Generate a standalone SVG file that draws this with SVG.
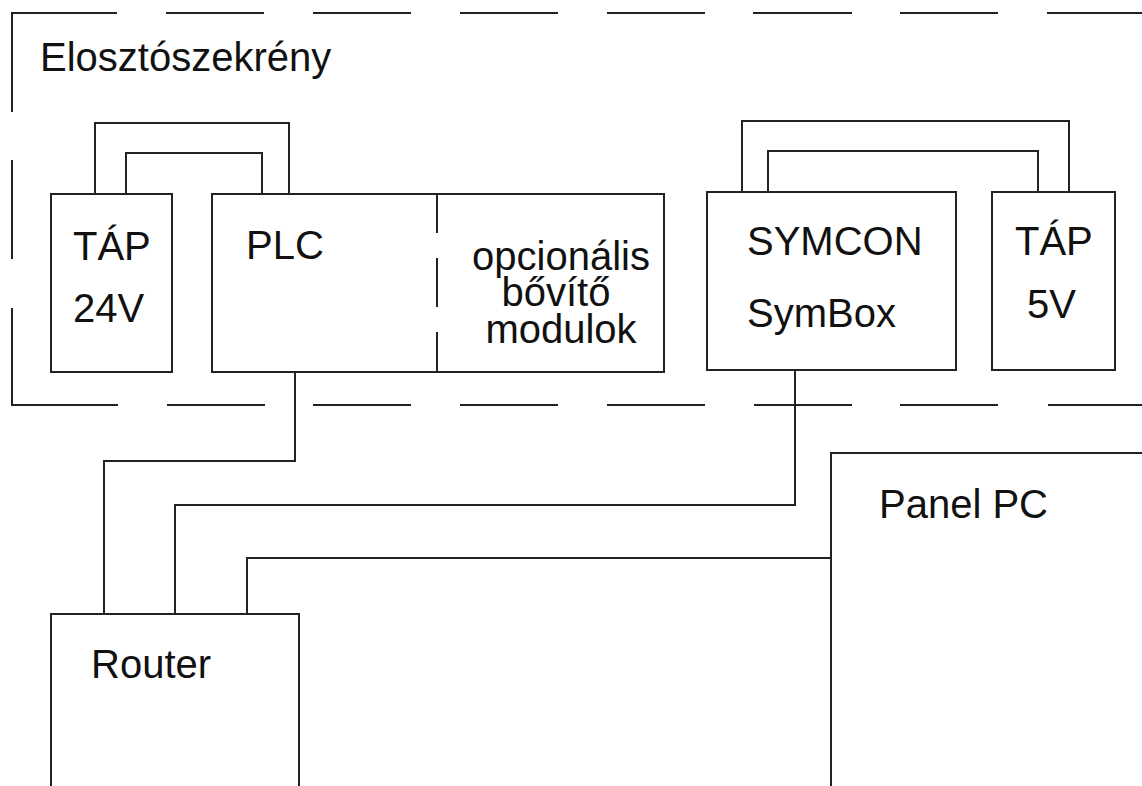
<svg xmlns="http://www.w3.org/2000/svg" width="1142" height="786" viewBox="0 0 1142 786">
<style>
.ln{fill:none;stroke:#222;stroke-width:2;stroke-linecap:butt}
.bx{fill:none;stroke:#222;stroke-width:2}
.t{font-family:"Liberation Sans",Arial,sans-serif;font-size:40px;fill:#111}
.m{text-anchor:middle}
</style>
<rect width="1142" height="786" fill="#fff"/>
<g id="cabinet">
<path class="ln" d="M12,112 V13 H117 M166,13 H264 M313,13 H411 M460,13 H558 M607,13 H705 M753,13 H852 M900,13 H998 M1047,13 H1142"/>
<path class="ln" d="M12,160 V259 M12,308 V405 H118 M167,405 H265 M313,405 H411 M460,405 H558 M607,405 H705 M754,405 H852 M900,405 H998 M1048,405 H1142"/>
<text class="t" x="40" y="71">Elosztószekrény</text>
</g>
<g id="tap24">
<rect class="bx" x="51" y="194" width="121" height="178"/>
<text class="t" x="73" y="260">TÁP</text>
<text class="t" x="73" y="322">24V</text>
</g>
<g id="plc">
<rect class="bx" x="212" y="194" width="452" height="178"/>
<path class="ln" d="M437,194 V233 M437,258 V307 M437,332 V372"/>
<text class="t" x="246" y="259">PLC</text>
<text class="t m" x="561" y="270">opcionális</text>
<text class="t m" x="556" y="306">bővítő</text>
<text class="t m" x="561" y="343">modulok</text>
</g>
<g id="symcon">
<rect class="bx" x="707" y="192" width="249" height="178"/>
<text class="t" x="747" y="255">SYMCON</text>
<text class="t" x="747" y="327">SymBox</text>
</g>
<g id="tap5">
<rect class="bx" x="992" y="192" width="123" height="178"/>
<text class="t" x="1015" y="255">TÁP</text>
<text class="t" x="1027" y="318">5V</text>
</g>
<g id="router">
<path class="bx" d="M51,800 V614 H299 V800"/>
<text class="t" x="91" y="678">Router</text>
</g>
<g id="panelpc">
<path class="bx" d="M831,800 V453 H1150"/>
<text class="t" x="879" y="518">Panel PC</text>
</g>
<g id="connectors">
<path class="ln" d="M95,194 V123 H289 V194"/>
<path class="ln" d="M126,194 V153 H262 V194"/>
<path class="ln" d="M742,192 V121 H1069 V192"/>
<path class="ln" d="M768,192 V151 H1038 V192"/>
<path class="ln" d="M295,372 V461 H104 V614"/>
<path class="ln" d="M795,370 V505 H175 V614"/>
<path class="ln" d="M831,558 H247 V614"/>
</g>
</svg>
